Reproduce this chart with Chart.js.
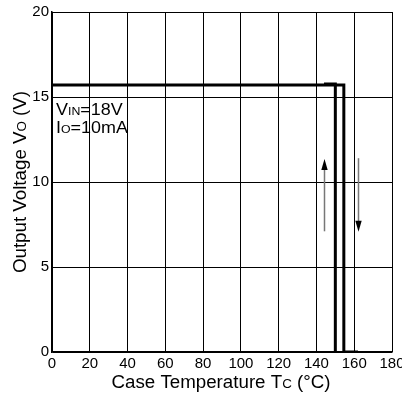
<!DOCTYPE html>
<html><head><meta charset="utf-8">
<script src="https://cdn.jsdelivr.net/npm/chart.js@4"></script>
<style>html,body{margin:0;padding:0;background:#fff}#wrap{width:402px;height:396px}</style>
</head><body><div id="wrap"><canvas id="c" width="402" height="396"></canvas></div>
<script>
const xTicks = [0,20,40,60,80,100,120,140,160,180];
const yTicks = [0,5,10,15,20];
const heatX = [0,154.5,154.5,162];
const heatY = [15.7,15.7,0,0];
const coolX = [150,150,144];
const coolY = [0,15.76,15.76];
const arrowUp = {x:144, from:7.1, to:11.35};
const arrowDown = {x:162.2, from:11.4, to:7.08};

const FONT = '"Liberation Sans", Arial, sans-serif';

function runs(ctx, parts, x, y, align, sx){
  ctx.save();
  ctx.translate(x, y);
  ctx.scale(sx, 1);
  let w = 0;
  parts.forEach(p=>{ctx.font = p[1]+'px '+FONT; w += ctx.measureText(p[0]).width;});
  let cx = align==='center' ? -w/2 : 0;
  parts.forEach(p=>{ctx.font = p[1]+'px '+FONT; ctx.fillText(p[0], cx, 0); cx += ctx.measureText(p[0]).width;});
  ctx.restore();
}

const overlay = {
  id:'overlay',
  afterDatasetsDraw(chart){
    const ctx = chart.ctx, xs = chart.scales.x, ys = chart.scales.y;
    ctx.save();
    [[arrowUp,-1],[arrowDown,1]].forEach(([a,dir])=>{
      const px = Math.round(xs.getPixelForValue(a.x))+0.5;
      const y0 = ys.getPixelForValue(a.from), y1 = ys.getPixelForValue(a.to);
      ctx.strokeStyle = '#777'; ctx.lineWidth = 1.5;
      ctx.beginPath(); ctx.moveTo(px,y0); ctx.lineTo(px,y1 - dir*8); ctx.stroke();
      ctx.fillStyle = '#000';
      ctx.beginPath(); ctx.moveTo(px,y1); ctx.lineTo(px-3.2,y1-dir*11); ctx.lineTo(px+3.2,y1-dir*11); ctx.closePath(); ctx.fill();
    });
    ctx.fillStyle = '#000'; ctx.textBaseline = 'alphabetic'; ctx.textAlign='left';
    const lx = xs.getPixelForValue(0)+4;
    runs(ctx, [['V',16],['IN',11],['=18V',16]], lx, 115, 'left', 1.12);
    runs(ctx, [['I',16],['O',11],['=10mA',16]], lx, 132.5, 'left', 1.12);
    // x title
    const cxm = (chart.chartArea.left+chart.chartArea.right)/2;
    runs(ctx, [['Case Temperature T',17.5],['C',12.5],[' (°C)',17.5]], cxm - 1, 388, 'center', 1.07);
    // y title
    ctx.translate(26, (chart.chartArea.top+chart.chartArea.bottom)/2);
    ctx.rotate(-Math.PI/2);
    runs(ctx, [['Output Voltage V',17.5],['O',12.5],[' (V)',17.5]], 0, 0, 'center', 1.07);
    ctx.restore();
  }
};

new Chart(document.getElementById('c'), {
  type:'scatter',
  data:{datasets:[
    {data:heatX.map((x,i)=>({x, y:heatY[i]})), showLine:true, borderColor:'#000', borderWidth:3, pointRadius:0, borderJoinStyle:'miter', borderCapStyle:'butt'},
    {data:coolX.map((x,i)=>({x, y:coolY[i]})), showLine:true, borderColor:'#000', borderWidth:3, pointRadius:0, borderJoinStyle:'miter', borderCapStyle:'butt'}
  ]},
  options:{
    responsive:false, animation:false, devicePixelRatio:1,
    layout:{padding:{top:12,right:10,left:0,bottom:0}},
    plugins:{legend:{display:false}, tooltip:{enabled:false}},
    scales:{
      x:{type:'linear', min:0, max:180,
        afterBuildTicks(s){s.ticks = xTicks.map(v=>({value:v}));},
        afterFit(s){s.height = 44; s.paddingRight = 0; s.paddingLeft = 0;},
        ticks:{font:{family:FONT,size:15}, color:'#000', padding:3, maxRotation:0, autoSkip:false},
        grid:{color:'#000', lineWidth:1, drawTicks:false},
        border:{color:'#000', width:1.5}},
      y:{type:'linear', min:0, max:20,
        afterBuildTicks(s){s.ticks = yTicks.map(v=>({value:v}));},
        afterFit(s){s.width = 52; s.paddingTop=0; s.paddingBottom=0;},
        ticks:{font:{family:FONT,size:15}, color:'#000', padding:3},
        grid:{color:'#000', lineWidth:1, drawTicks:false},
        border:{color:'#000', width:1.5}}
    }
  },
  plugins:[overlay]
});
</script></body></html>
